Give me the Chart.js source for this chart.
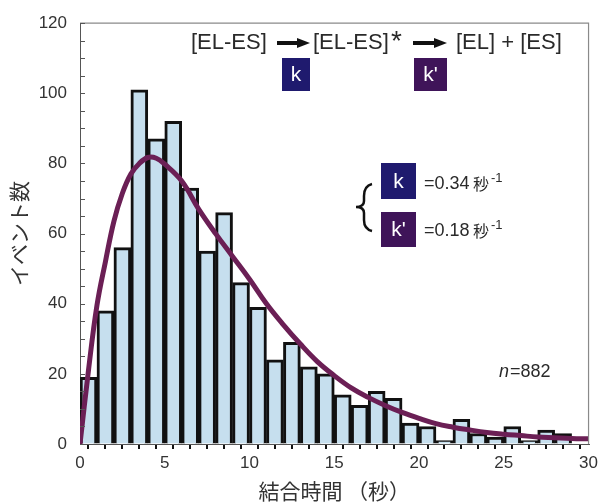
<!DOCTYPE html>
<html lang="ja">
<head>
<meta charset="utf-8">
<title>結合時間ヒストグラム</title>
<script src="https://cdn.jsdelivr.net/npm/chart.js@4/dist/chart.umd.min.js"></script>
<style>
  html, body { margin: 0; padding: 0; background: #fff; }
  #wrap { width: 602px; height: 504px; position: relative; }
</style>
</head>
<body>
<div id="wrap"><canvas id="chart"></canvas></div>
<script>
  // ヒストグラム（1秒ごとのビン）
  const binStart = [0,1,2,3,4,5,6,7,8,9,10,11,12,13,14,15,16,17,18,19,20,21,22,23,24,25,26,27,28,29];
  const counts   = [19,38,56,101,87,92,73,55,66,46,39,24,29,22,20,14,11,15,13,6,5,1,7,3,2,5,1,4,3,0];

  // フィット曲線
  const curveT = [0,0.5,1,1.5,2,2.5,3,3.5,4,4.5,5,6,7,8,9,10,11,12,13,14,15,16,17,18,19,20,21,22,23,24,25,26,27,28,29,30];
  const curveY = [0,21,39.5,52,63.5,71.5,77,80,81.7,81.5,79.8,75,67,60,53.5,47,40,34,28.5,23.5,19.5,16,13.3,11,9,7.3,5.8,4.8,4,3.3,2.8,2.4,2,1.8,1.6,1.5];

  const xTickLabels = [0,5,10,15,20,25,30];
  const yTickLabels = [0,20,40,60,80,100,120];

  const NUM_FONT = "'Liberation Sans', Arial, sans-serif";
  const JP_FONT = "'Noto Sans CJK JP', sans-serif";

  const barPoints = binStart.map((b, i) => ({ x: b + 0.5, y: counts[i] }));
  const curvePoints = curveT.map((t, i) => ({ x: t, y: curveY[i] }));

  function arrow(ctx, x1, x2, y) {
    ctx.save();
    ctx.strokeStyle = '#111';
    ctx.fillStyle = '#111';
    ctx.lineWidth = 4;
    ctx.beginPath();
    ctx.moveTo(x1, y);
    ctx.lineTo(x2 - 10, y);
    ctx.stroke();
    ctx.beginPath();
    ctx.moveTo(x2, y);
    ctx.lineTo(x2 - 13, y - 5);
    ctx.lineTo(x2 - 13, y + 5);
    ctx.closePath();
    ctx.fill();
    ctx.restore();
  }

  function box(ctx, x, y, w, h, color, label) {
    ctx.save();
    ctx.fillStyle = color;
    ctx.fillRect(x, y, w, h);
    ctx.fillStyle = '#fff';
    ctx.font = '21px ' + NUM_FONT;
    ctx.textAlign = 'center';
    ctx.textBaseline = 'middle';
    ctx.fillText(label, x + w / 2, y + h / 2 + 1);
    ctx.restore();
  }

  const decor = {
    id: 'decor',
    afterDraw(chart) {
      const ctx = chart.ctx;
      const a = chart.chartArea;
      const ys = chart.scales.y;

      ctx.save();
      // 枠線（上・右）
      ctx.strokeStyle = '#8a8a8a';
      ctx.lineWidth = 1.2;
      ctx.beginPath();
      ctx.moveTo(a.left, a.top);
      ctx.lineTo(a.right, a.top);
      ctx.lineTo(a.right, a.bottom);
      ctx.stroke();

      // y軸の内向き目盛り
      ctx.strokeStyle = '#555';
      ctx.lineWidth = 1;
      ys.ticks.forEach(t => {
        const py = Math.round(ys.getPixelForValue(t.value)) + 0.5;
        ctx.beginPath();
        ctx.moveTo(a.left, py);
        ctx.lineTo(a.left + 5, py);
        ctx.stroke();
      });

      // 反応式
      ctx.fillStyle = '#2a2a2a';
      ctx.font = '22px ' + NUM_FONT;
      ctx.textAlign = 'left';
      ctx.textBaseline = 'middle';
      ctx.fillText('[EL-ES]', 191, 43);
      arrow(ctx, 277, 310, 43);
      ctx.fillText('[EL-ES]', 313, 43);
      ctx.font = '28px ' + NUM_FONT;
      ctx.fillText('*', 391, 42);
      ctx.font = '22px ' + NUM_FONT;
      arrow(ctx, 413, 447, 43);
      ctx.fillText('[EL] + [ES]', 456, 43);

      box(ctx, 282, 58, 28, 33, '#1f1a6e', 'k');
      box(ctx, 414, 58, 33, 33, '#3f1459', "k'");

      // 速度定数
      ctx.strokeStyle = '#111';
      ctx.lineWidth = 2.5;
      ctx.beginPath();
      ctx.moveTo(372, 184);
      ctx.quadraticCurveTo(364, 186, 364, 196);
      ctx.lineTo(364, 201);
      ctx.quadraticCurveTo(364, 207, 356, 207);
      ctx.quadraticCurveTo(364, 207, 364, 213);
      ctx.lineTo(364, 220);
      ctx.quadraticCurveTo(364, 229, 372, 231);
      ctx.stroke();

      box(ctx, 381, 163, 35, 36, '#1f1a6e', 'k');
      box(ctx, 381, 212, 35, 35, '#3f1459', "k'");

      ctx.fillStyle = '#2a2a2a';
      ctx.font = '18px ' + NUM_FONT;
      ctx.fillText('=0.34', 424, 184);
      ctx.fillText('=0.18', 424, 231);
      ctx.font = '16px ' + JP_FONT;
      ctx.fillText('秒', 473, 184);
      ctx.fillText('秒', 473, 231);
      ctx.font = '13px ' + NUM_FONT;
      ctx.fillText('-1', 491, 178);
      ctx.fillText('-1', 491, 225);

      // n
      ctx.font = 'italic 18px ' + NUM_FONT;
      ctx.fillText('n', 499, 372);
      const nw = ctx.measureText('n').width;
      ctx.font = '18px ' + NUM_FONT;
      ctx.fillText('=882', 499 + nw + 1, 372);
      ctx.restore();
    }
  };

  new Chart(document.getElementById('chart'), {
    type: 'bar',
    data: {
      datasets: [
        {
          type: 'line',
          data: curvePoints,
          borderColor: '#6b1f55',
          borderWidth: 5,
          pointRadius: 0,
          tension: 0.4,
          fill: false,
          order: 0
        },
        {
          type: 'bar',
          data: barPoints,
          backgroundColor: '#c6dfee',
          borderColor: '#111',
          borderWidth: 3,
          barPercentage: 1,
          categoryPercentage: 1,
          order: 1
        }
      ]
    },
    options: {
      responsive: true,
      maintainAspectRatio: false,
      animation: false,
      events: [],
      layout: { padding: { top: 20, right: 10, left: 0, bottom: 0 } },
      plugins: { legend: { display: false }, tooltip: { enabled: false } },
      scales: {
        x: {
          type: 'linear',
          min: 0,
          max: 30,
          offset: false,
          afterFit: s => { s.height = 60; },
          grid: { drawOnChartArea: false, drawTicks: true, tickLength: 5, color: '#111', lineWidth: 2 },
          border: { color: '#555', width: 1 },
          ticks: {
            stepSize: 1,
            autoSkip: false,
            maxRotation: 0,
            padding: 4,
            color: '#333',
            font: { family: NUM_FONT, size: 17 },
            callback: v => xTickLabels.includes(v) ? String(v) : ''
          },
          title: {
            display: true,
            text: '結合時間 （秒）',
            color: '#333',
            font: { family: JP_FONT, size: 21 },
            padding: { top: 0, bottom: 0 }
          }
        },
        y: {
          min: 0,
          max: 120,
          afterFit: s => { s.width = 80; },
          grid: { drawOnChartArea: false, drawTicks: false },
          border: { color: '#555', width: 1 },
          ticks: {
            stepSize: 5,
            autoSkip: false,
            padding: 13,
            color: '#333',
            font: { family: NUM_FONT, size: 17 },
            callback: v => yTickLabels.includes(v) ? String(v) : ''
          },
          title: {
            display: true,
            text: 'イベント数',
            color: '#333',
            font: { family: JP_FONT, size: 21 },
            padding: { top: 6, bottom: 0 }
          }
        }
      }
    },
    plugins: [decor]
  });
</script>
</body>
</html>
